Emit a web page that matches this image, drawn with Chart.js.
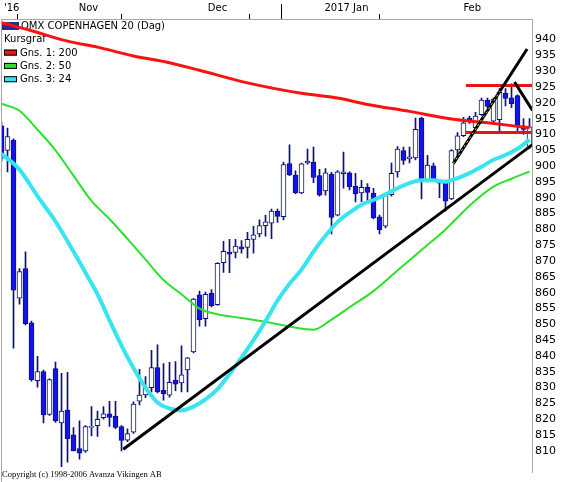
<!DOCTYPE html>
<html>
<head>
<meta charset="utf-8">
<script src="https://cdn.jsdelivr.net/npm/chart.js@4.4.1/dist/chart.umd.min.js"></script>
<style>
html, body { margin: 0; padding: 0; background: #fff; }
#wrap { width: 568px; height: 482px; position: relative; }
</style>
</head>
<body>
<div id="wrap"><canvas id="chart"></canvas></div>
<script>
// trading days, OMX Copenhagen 20, daily candles
const dates = [
    "2016-10-26", "2016-10-27", "2016-10-28", "2016-10-31",
    "2016-11-01", "2016-11-02", "2016-11-03", "2016-11-04", "2016-11-07", "2016-11-08", "2016-11-09", "2016-11-10",
    "2016-11-11", "2016-11-14", "2016-11-15", "2016-11-16", "2016-11-17", "2016-11-18", "2016-11-21", "2016-11-22",
    "2016-11-23", "2016-11-24", "2016-11-25", "2016-11-28", "2016-11-29", "2016-11-30",
    "2016-12-01", "2016-12-02", "2016-12-05", "2016-12-06", "2016-12-07", "2016-12-08", "2016-12-09", "2016-12-12",
    "2016-12-13", "2016-12-14", "2016-12-15", "2016-12-16", "2016-12-19", "2016-12-20", "2016-12-21", "2016-12-22",
    "2016-12-23", "2016-12-27", "2016-12-28", "2016-12-29", "2016-12-30",
    "2017-01-02", "2017-01-03", "2017-01-04", "2017-01-05", "2017-01-06", "2017-01-09", "2017-01-10", "2017-01-11",
    "2017-01-12", "2017-01-13", "2017-01-16", "2017-01-17", "2017-01-18", "2017-01-19", "2017-01-20", "2017-01-23",
    "2017-01-24", "2017-01-25", "2017-01-26", "2017-01-27", "2017-01-30", "2017-01-31",
    "2017-02-01", "2017-02-02", "2017-02-03", "2017-02-06", "2017-02-07", "2017-02-08", "2017-02-09", "2017-02-10",
    "2017-02-13", "2017-02-14", "2017-02-15", "2017-02-16", "2017-02-17", "2017-02-20", "2017-02-21", "2017-02-22",
    "2017-02-23", "2017-02-24", "2017-02-27", "2017-02-28"
];

const open = [
    912.7, 905.0, 908.2, 858.3, 867.6, 850.5, 832.2, 835.1, 821.5, 836.0,
    818.8, 822.9, 815.1, 810.7, 810.0, 817.4, 818.0, 820.5, 821.7, 821.0,
    817.7, 813.4, 815.9, 825.7, 827.7, 830.0, 836.3, 829.1, 827.6, 832.4,
    831.5, 835.6, 841.3, 859.3, 851.8, 859.8, 856.2, 869.5, 872.8, 872.7,
    874.5, 874.3, 876.8, 878.6, 881.2, 882.0, 885.8, 884.0, 900.8, 897.2,
    891.5, 901.0, 901.3, 897.0, 892.2, 897.4, 884.5, 897.6, 897.9, 893.6,
    891.5, 893.3, 891.5, 884.0, 881.0, 891.0, 898.2, 904.9, 902.3, 902.6,
    915.2, 895.6, 900.1, 895.1, 894.8, 889.6, 905.1, 909.6, 915.2, 912.1,
    916.3, 920.9, 914.2, 914.7, 923.0, 921.6, 922.3, 912.7, 906.2
];
const high = [
    914.0, 912.0, 908.6, 867.6, 872.9, 851.0, 839.9, 835.5, 832.8, 838.1,
    834.5, 834.8, 817.4, 819.5, 818.0, 824.0, 822.6, 824.0, 825.7, 825.7,
    818.0, 817.0, 825.5, 835.8, 833.5, 841.8, 843.5, 837.6, 838.0, 838.2,
    843.2, 839.6, 858.2, 860.5, 860.2, 861.0, 869.5, 876.2, 876.9, 876.9,
    876.5, 879.1, 881.0, 883.0, 884.5, 886.4, 886.4, 901.3, 906.7, 898.5,
    901.0, 905.4, 906.0, 899.0, 899.2, 898.0, 898.6, 904.4, 898.2, 897.7,
    895.5, 894.5, 893.0, 884.5, 891.5, 901.0, 906.2, 906.0, 906.0, 915.2,
    915.5, 903.4, 901.0, 895.5, 895.2, 905.2, 910.6, 915.4, 915.8, 917.0,
    921.5, 921.5, 921.5, 924.5, 924.5, 926.0, 922.5, 915.0, 915.0
];
const low = [
    901.5, 898.2, 842.5, 856.4, 849.8, 832.0, 830.1, 818.8, 821.2, 819.0,
    805.0, 806.4, 810.0, 807.4, 809.5, 814.7, 814.6, 820.0, 817.7, 817.0,
    810.0, 812.9, 815.5, 824.5, 826.8, 828.6, 828.3, 826.0, 827.0, 829.0,
    828.6, 828.6, 841.0, 849.4, 849.4, 855.5, 856.0, 866.4, 866.3, 871.0,
    872.5, 871.0, 872.5, 877.6, 877.9, 877.1, 882.2, 883.0, 897.0, 891.3,
    891.3, 900.6, 894.8, 890.5, 890.8, 878.6, 884.3, 893.0, 892.5, 888.7,
    888.8, 888.5, 883.3, 878.6, 880.5, 890.5, 896.5, 900.5, 901.0, 902.0,
    889.6, 895.0, 895.5, 890.0, 885.8, 889.4, 902.9, 909.3, 913.5, 911.8,
    916.0, 918.5, 913.8, 910.6, 919.0, 918.5, 910.5, 910.0, 905.5
];
const close = [
    902.5, 909.3, 860.8, 866.7, 850.2, 832.5, 835.1, 821.4, 832.5, 819.5,
    822.6, 813.9, 810.0, 809.3, 817.7, 817.8, 820.0, 821.7, 820.6, 817.4,
    813.3, 815.5, 824.8, 827.6, 830.0, 836.3, 828.6, 828.1, 831.7, 831.1,
    834.0, 839.4, 858.0, 851.5, 859.5, 855.9, 869.3, 873.1, 872.2, 874.7,
    873.8, 876.9, 878.3, 881.2, 882.4, 885.8, 884.1, 900.5, 897.2, 891.5,
    900.7, 901.6, 896.4, 890.8, 897.9, 883.8, 898.2, 898.2, 893.4, 891.2,
    893.3, 891.7, 883.6, 879.9, 891.0, 897.7, 905.4, 901.8, 902.9, 911.6,
    895.6, 900.3, 895.8, 894.6, 888.9, 904.9, 909.6, 913.7, 914.0, 915.8,
    920.9, 918.9, 921.2, 923.3, 921.4, 919.7, 912.7, 911.6, 912.4
];

// moving averages (day index, value)
const ma200At = [0, 5, 11, 16, 22, 28, 33, 41, 50, 56, 61, 68, 75, 81, 88];
const ma200 = [945.3, 942.8, 939.5, 937.6, 934.8, 932.7, 930.3, 926.3, 923.0, 921.5, 919.5, 917.3, 914.9, 913.7, 912.1];
const ma50At = [0, 3, 6, 9, 12, 15, 18, 21, 24, 27, 30, 33, 36, 40, 44, 48, 52, 55, 58, 62, 66, 70, 74, 78, 82, 85, 88];
const ma50 = [919.7, 917.5, 911.5, 905.0, 897.0, 889.0, 883.3, 877.0, 870.5, 864.0, 859.5, 855.0, 853.2, 852.0, 850.8,
    849.3, 848.3, 851.5, 855.4, 860.5, 867.0, 873.5, 880.0, 887.5, 893.5, 896.0, 898.3];
const ma24At = [0, 3, 6, 9, 12, 14, 16, 18, 20, 22, 24, 26, 28, 30, 32, 34, 36, 38, 40, 42, 44, 46, 48, 50, 52, 54,
    56, 58, 60, 62, 64, 66, 68, 70, 72, 74, 76, 78, 80, 82, 84, 86, 88];
const ma24 = [903.9, 898.9, 890.5, 882.5, 873.0, 866.3, 859.5, 851.3, 843.3, 836.2, 830.0, 825.3, 823.4, 822.8, 824.0,
    826.3, 829.5, 834.3, 839.5, 845.0, 851.0, 857.5, 862.8, 867.3, 873.0, 878.0, 882.3, 885.3, 887.8, 889.3, 891.0,
    893.0, 894.6, 895.5, 895.5, 895.1, 896.2, 897.8, 899.8, 902.0, 903.5, 905.5, 908.3];

// drawn trend lines and levels (day index, value)
const supportLine = [[20.3, 810.5], [88.5, 906.8]];
const channelUp = [[75.3, 900.8], [87.6, 937.0]];
const channelDown = [[85.5, 926.6], [88.5, 917.6]];
const selectedPart = [[75.3, 900.8], [83.1, 923.7]];
const resistance = [[77.4, 925.5], [88.5, 925.5]];
const supportLevel = [[77.4, 910.6], [88.5, 910.6]];

const yTicks = [810, 815, 820, 825, 830, 835, 840, 845, 850, 855, 860, 865, 870, 875,
    880, 885, 890, 895, 900, 905, 910, 915, 920, 925, 930, 935, 940];

const legendLabels = ["OMX COPENHAGEN 20 (Dag)", "Kursgraf", "Gns. 1: 200", "Gns. 2: 50", "Gns. 3: 24"];
const copyright = "Copyright (c) 1998-2006 Avanza Vikingen AB";

const monthNames = ["Jan", "Feb", "Mar", "Apr", "May", "Jun", "Jul", "Aug", "Sep", "Oct", "Nov", "Dec"];
const xMin = -1 / 12;
const xMax = xMin + 88.5;

// month spans -> boundary ticks and centered labels
let spans = [];
dates.forEach((d, i) => {
    const key = d.slice(0, 7);
    if (!spans.length || spans[spans.length - 1].key !== key) {
        spans.push({key: key, first: i, last: i});
    } else {
        spans[spans.length - 1].last = i;
    }
});

let breaks = [];
let labelTicks = {};
spans.forEach((s, k) => {
    const from = k === 0 ? xMin : s.first - 0.5;
    const to = k === spans.length - 1 ? xMax : s.last + 0.5;
    const year = s.key.slice(0, 4);
    const month = parseInt(s.key.slice(5, 7), 10) - 1;
    let text = monthNames[month];
    if (s.last - s.first < 5) text = "'" + year.slice(2);
    else if (month === 0) text = year + " " + text;
    labelTicks[((from + to) / 2).toFixed(3)] = text;
    if (k > 0) breaks.push({value: s.first - 0.5, newYear: month === 0});
});

function points(pairs) {
    return pairs.map(p => ({x: p[0], y: p[1]}));
}

function maLine(at, values) {
    return at.map((x, k) => ({x: x, y: values[k]}));
}

const BLUE = "#1414e8";
const NAVY = "#0c0c8c";

const frame = {
    id: 'frame',
    beforeDatasetsDraw(chart) {
        const ctx = chart.ctx;
        const swatches = ["#2c2a8e", null, "#ff1010", "#2ee02e", "#38e4f0"];
        ctx.save();
        ctx.font = '10px "DejaVu Sans"';
        ctx.textBaseline = 'middle';
        legendLabels.forEach((text, k) => {
            const cy = 26 + k * 13.3;
            let tx = 4;
            if (k === 0) {
                ctx.fillStyle = swatches[k];
                ctx.fillRect(1, cy - 4, 18, 8);
                tx = 21;
            } else if (swatches[k]) {
                ctx.fillStyle = swatches[k];
                ctx.fillRect(4, cy - 3, 13, 6);
                ctx.strokeStyle = "#000";
                ctx.lineWidth = 1;
                ctx.strokeRect(4.5, cy - 2.5, 12, 5);
                tx = 20;
            }
            ctx.fillStyle = "#000";
            ctx.fillText(text, tx, cy + 0.5);
        });
        ctx.restore();
    },
    afterDraw(chart) {
        const ctx = chart.ctx;
        const a = chart.chartArea;
        const xs = chart.scales.x;
        ctx.save();
        ctx.strokeStyle = "#a8a8a8";
        ctx.lineWidth = 1;
        ctx.beginPath();
        ctx.moveTo(a.left + 0.5, a.top);
        ctx.lineTo(a.left + 0.5, chart.height);
        ctx.stroke();
        // longer mark at the year change
        ctx.strokeStyle = "#000";
        breaks.filter(b => b.newYear).forEach(b => {
            const px = Math.round(xs.getPixelForValue(b.value)) + 0.5;
            ctx.beginPath();
            ctx.moveTo(px, 4);
            ctx.lineTo(px, a.top);
            ctx.stroke();
        });
        ctx.fillStyle = "#000";
        ctx.font = '8.5px "Liberation Serif"';
        ctx.textBaseline = 'middle';
        ctx.fillText(copyright, 2, 474.5);
        ctx.restore();
    }
};

new Chart(document.getElementById('chart'), {
    type: 'bar',
    data: {
        datasets: [
            {
                label: 'wick',
                data: dates.map((d, i) => ({x: i, y: [low[i], high[i]]})),
                backgroundColor: NAVY,
                barThickness: 1,
                grouped: false,
                order: 10
            },
            {
                label: legendLabels[0],
                data: dates.map((d, i) => ({x: i, y: [open[i], close[i]]})),
                backgroundColor: c => close[c.dataIndex] >= open[c.dataIndex] ? '#ffffff' : BLUE,
                borderColor: NAVY,
                borderWidth: 1,
                borderSkipped: false,
                barThickness: 5,
                grouped: false,
                order: 9
            },
            {
                type: 'line', label: legendLabels[3], data: maLine(ma50At, ma50),
                borderColor: '#2ee02e', borderWidth: 2, pointRadius: 0,
                cubicInterpolationMode: 'monotone', order: 6
            },
            {
                type: 'line', label: legendLabels[4], data: maLine(ma24At, ma24),
                borderColor: '#38e4f0', borderWidth: 4, pointRadius: 0,
                cubicInterpolationMode: 'monotone', order: 5
            },
            {
                type: 'line', label: legendLabels[2], data: maLine(ma200At, ma200),
                borderColor: '#ff1010', borderWidth: 3, pointRadius: 0,
                cubicInterpolationMode: 'monotone', order: 4
            },
            {
                type: 'line', label: 'resistance', data: points(resistance),
                borderColor: '#e81414', borderWidth: 3, pointRadius: 0, order: 3
            },
            {
                type: 'line', label: 'support level', data: points(supportLevel),
                borderColor: '#e81414', borderWidth: 3, pointRadius: 0, order: 3
            },
            {
                type: 'line', label: 'support', data: points(supportLine),
                borderColor: '#000000', borderWidth: 3, pointRadius: 0, order: 2
            },
            {
                type: 'line', label: 'channel up', data: points(channelUp),
                borderColor: '#000000', borderWidth: 3, pointRadius: 0, order: 2
            },
            {
                type: 'line', label: 'channel down', data: points(channelDown),
                borderColor: '#000000', borderWidth: 3, pointRadius: 0, order: 2
            },
            {
                type: 'line', label: 'selected', data: points(selectedPart),
                borderColor: '#f4e040', borderWidth: 1, borderDash: [2, 3], pointRadius: 0, order: 1
            }
        ]
    },
    options: {
        responsive: true,
        maintainAspectRatio: false,
        animation: false,
        layout: {padding: {left: 1, top: 0, right: 0, bottom: 0}},
        plugins: {
            legend: {display: false},
            tooltip: {enabled: false}
        },
        scales: {
            x: {
                type: 'linear',
                position: 'top',
                min: xMin,
                max: xMax,
                offset: false,
                afterBuildTicks: function (axis) {
                    let t = breaks.map(b => ({value: b.value}));
                    Object.keys(labelTicks).forEach(k => t.push({value: parseFloat(k)}));
                    t.sort((p, q) => p.value - q.value);
                    axis.ticks = t;
                },
                afterFit: function (axis) {
                    axis.height = 19;
                },
                grid: {
                    drawOnChartArea: false,
                    drawTicks: true,
                    tickLength: 5,
                    tickWidth: 1,
                    tickColor: c => (c.tick && labelTicks[c.tick.value.toFixed(3)] === undefined) ? '#000' : 'rgba(0,0,0,0)'
                },
                border: {display: true, color: '#a8a8a8'},
                ticks: {
                    autoSkip: false,
                    maxRotation: 0,
                    padding: 0,
                    color: '#000',
                    font: {family: '"DejaVu Sans"', size: 10},
                    callback: function (value) {
                        const text = labelTicks[Number(value).toFixed(3)];
                        return text === undefined ? '' : text;
                    }
                }
            },
            y: {
                position: 'right',
                min: 803.2,
                max: 946.5,
                afterBuildTicks: function (axis) {
                    axis.ticks = yTicks.map(v => ({value: v}));
                },
                afterFit: function (axis) {
                    axis.width = 36;
                },
                grid: {display: false, drawTicks: false},
                border: {display: true, color: '#a8a8a8'},
                ticks: {
                    padding: 3,
                    color: '#000',
                    font: {family: '"DejaVu Sans"', size: 11},
                    callback: v => String(v)
                }
            }
        }
    },
    plugins: [frame]
});
</script>
</body>
</html>
